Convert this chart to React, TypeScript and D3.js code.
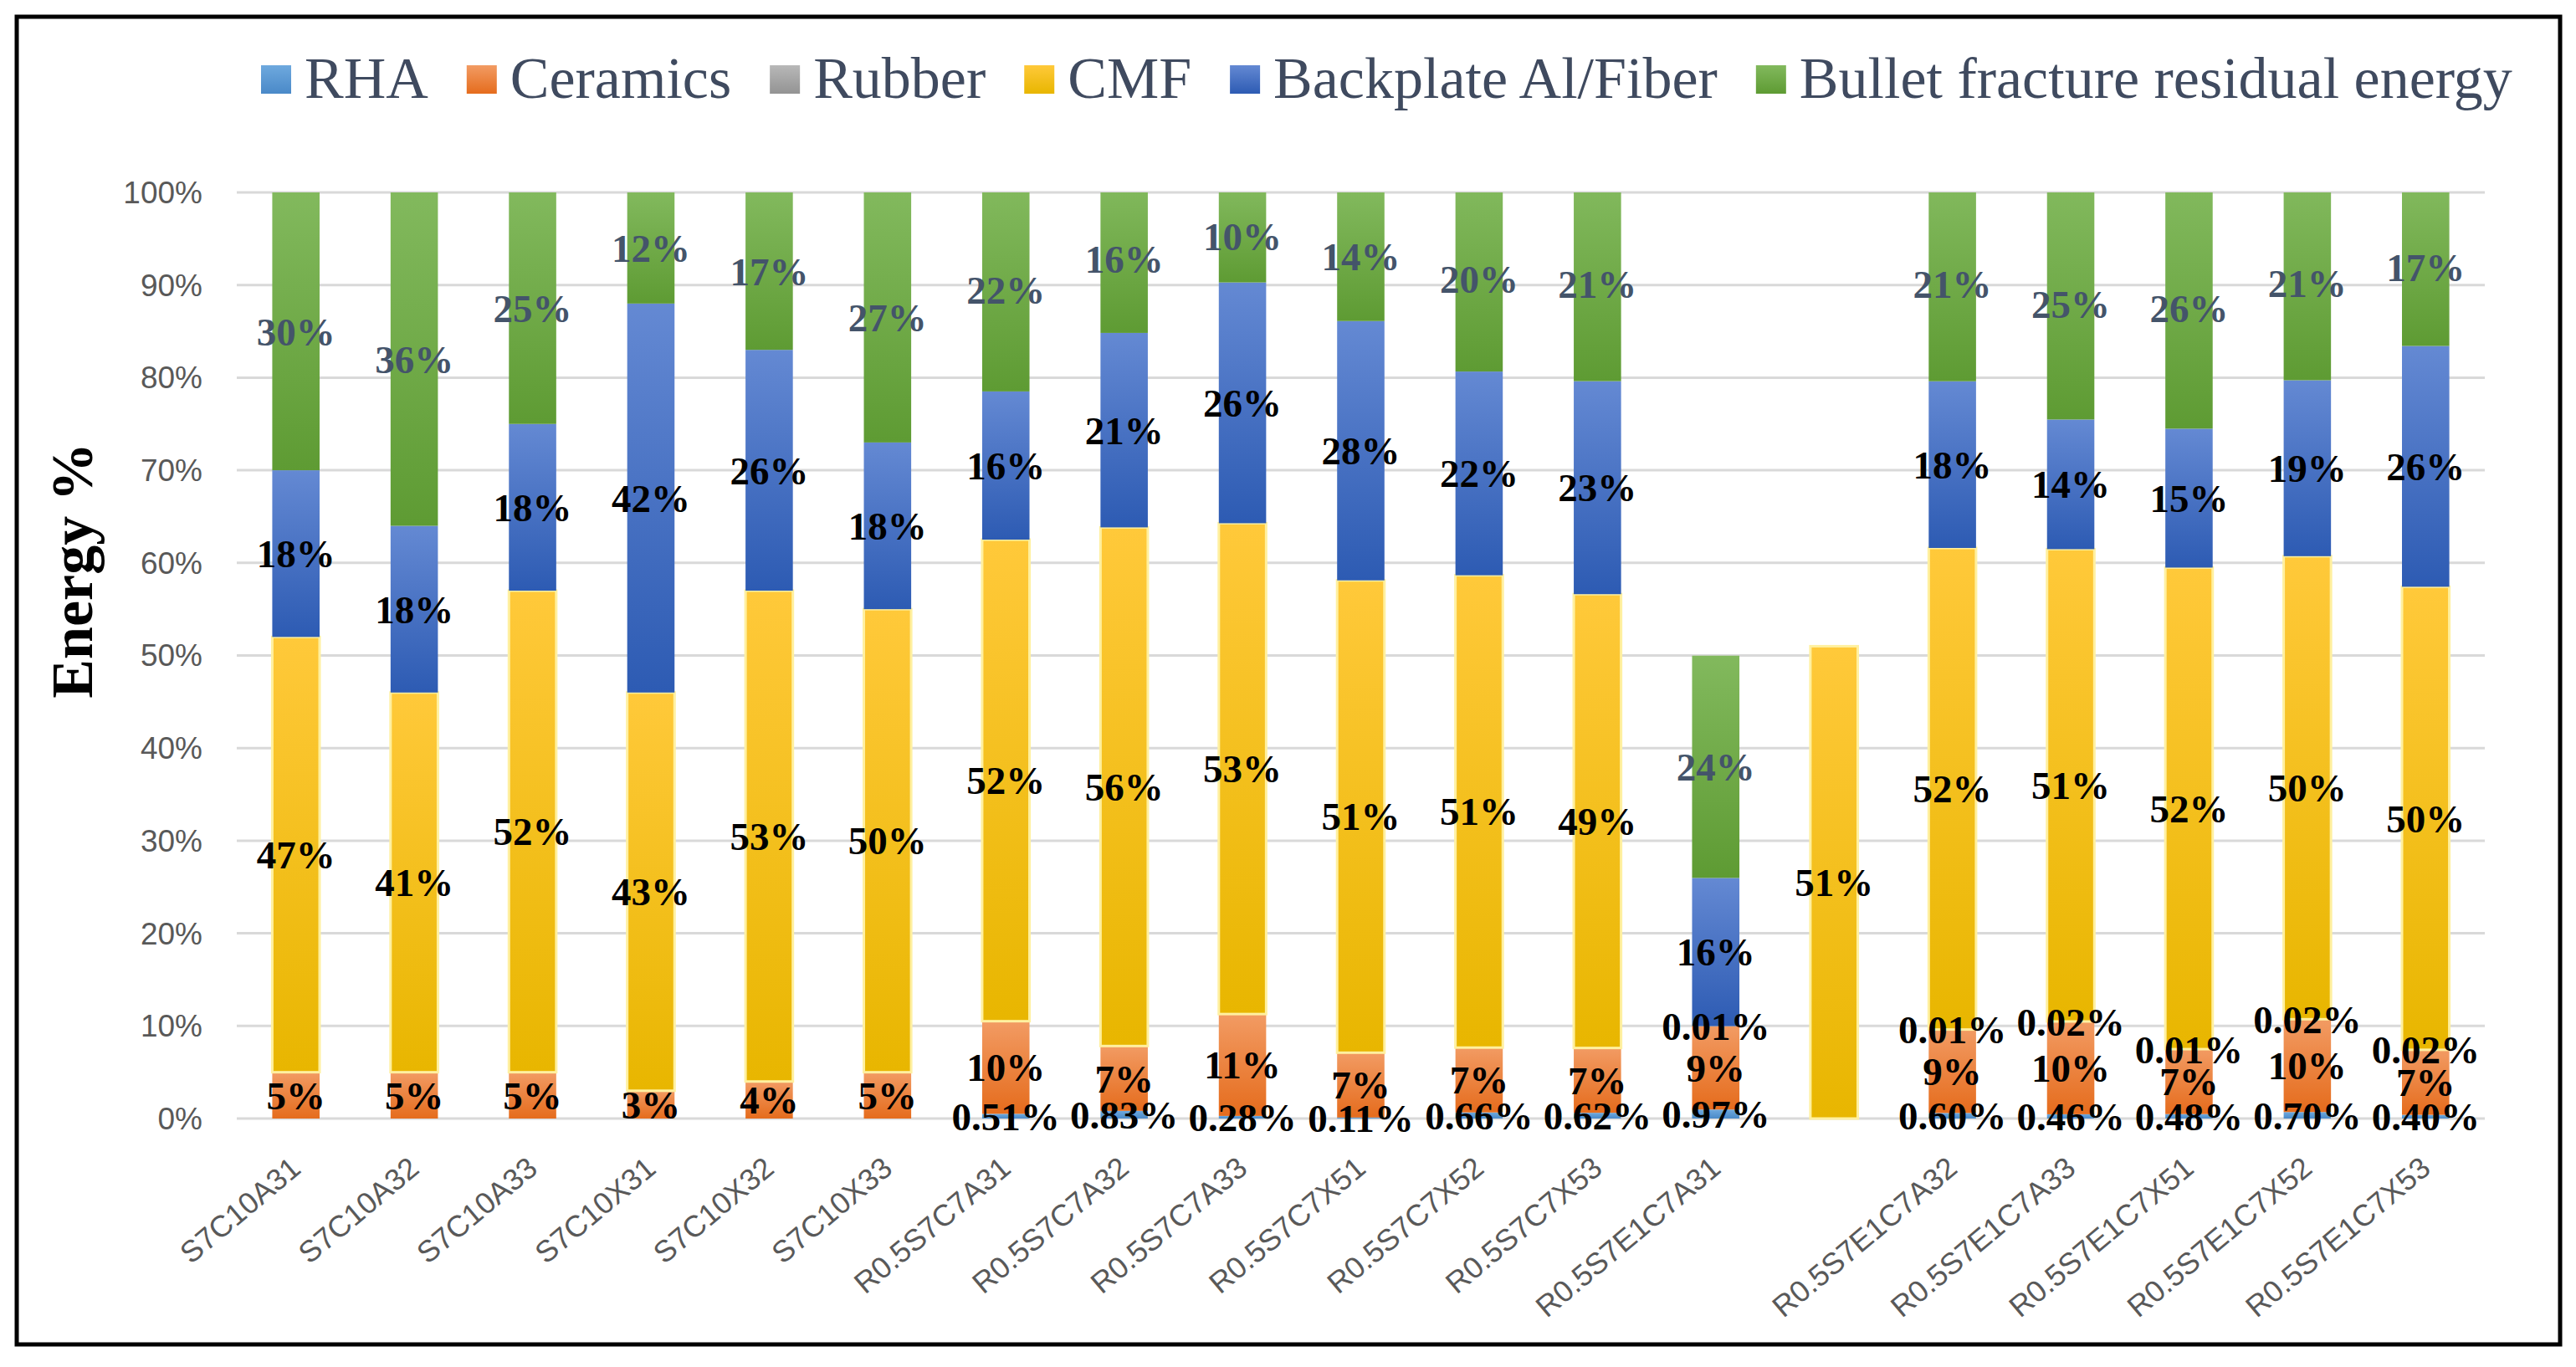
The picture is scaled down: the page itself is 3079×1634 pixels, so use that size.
import { useEffect, useRef } from 'react';
import * as d3 from 'd3';

// categories (one unlabeled column carries the lone 51% CMF bar)
const categories = [
  'S7C10A31', 'S7C10A32', 'S7C10A33', 'S7C10X31', 'S7C10X32', 'S7C10X33',
  'R0.5S7C7A31', 'R0.5S7C7A32', 'R0.5S7C7A33', 'R0.5S7C7X51', 'R0.5S7C7X52', 'R0.5S7C7X53',
  'R0.5S7E1C7A31', '', 'R0.5S7E1C7A32', 'R0.5S7E1C7A33', 'R0.5S7E1C7X51', 'R0.5S7E1C7X52', 'R0.5S7E1C7X53',
];

const seriesNames = ['RHA', 'Ceramics', 'Rubber', 'CMF', 'Backplate Al/Fiber', 'Bullet fracture residual energy'];

const rha = [0, 0, 0, 0, 0, 0, 0.51, 0.83, 0.28, 0.11, 0.66, 0.62, 0.97, 0, 0.6, 0.46, 0.48, 0.7, 0.4];
const ceramics = [5, 5, 5, 3, 4, 5, 10, 7, 11, 7, 7, 7, 9, 0, 9, 10, 7, 10, 7];
const rubber = [0, 0, 0, 0, 0, 0, 0, 0, 0, 0, 0, 0, 0.01, 0, 0.01, 0.02, 0.01, 0.02, 0.02];
const cmf = [47, 41, 52, 43, 53, 50, 52, 56, 53, 51, 51, 49, 0, 51, 52, 51, 52, 50, 50];
const backplate = [18, 18, 18, 42, 26, 18, 16, 21, 26, 28, 22, 23, 16, 0, 18, 14, 15, 19, 26];
const bullet = [30, 36, 25, 12, 17, 27, 22, 16, 10, 14, 20, 21, 24, 0, 21, 25, 26, 21, 17];

const yTicks = [0, 10, 20, 30, 40, 50, 60, 70, 80, 90, 100];

const topColors = ['#6ea9de', '#f29b63', '#b8b8b8', '#ffc93a', '#6489d3', '#82b95d'];
const bottomColors = ['#4a89c8', '#e56c1d', '#939393', '#e8b600', '#2d5bb3', '#5e9b33'];

const W = 3079;
const H = 1634;

export default function App() {
  const svgRef = useRef<SVGSVGElement>(null);

  useEffect(() => {
    if (!svgRef.current) return;
    const svg = d3.select(svgRef.current);
    svg.selectAll('*').remove();

    const plot = { left: 283, right: 2970, top: 230, bottom: 1337 };
    const serif = '"Liberation Serif", "Times New Roman", serif';
    const sans = '"Liberation Sans", Arial, sans-serif';

    const defs = svg.append('defs');
    seriesNames.forEach((_, i) => {
      const g = defs
        .append('linearGradient')
        .attr('id', `grad${i}`)
        .attr('x1', 0)
        .attr('y1', 0)
        .attr('x2', 0)
        .attr('y2', 1);
      g.append('stop').attr('offset', '0%').attr('stop-color', topColors[i]);
      g.append('stop').attr('offset', '100%').attr('stop-color', bottomColors[i]);
    });
    defs
      .append('clipPath')
      .attr('id', 'plotClip')
      .append('rect')
      .attr('x', 0)
      .attr('y', plot.top)
      .attr('width', W)
      .attr('height', plot.bottom - plot.top + 2);

    svg.append('rect').attr('width', W).attr('height', H).attr('fill', '#fff');
    svg
      .append('rect')
      .attr('x', 20)
      .attr('y', 20)
      .attr('width', 3040)
      .attr('height', 1587)
      .attr('fill', 'none')
      .attr('stroke', '#000')
      .attr('stroke-width', 5);

    // scales
    const x = d3.scaleBand<string>().domain(categories).range([plot.left, plot.right]).paddingInner(0.6).paddingOuter(0.3);
    const y = d3.scaleLinear().domain([0, 100]).range([plot.bottom, plot.top]);

    // gridlines + y ticks
    svg
      .append('g')
      .selectAll('line')
      .data(yTicks)
      .enter()
      .append('line')
      .attr('x1', plot.left)
      .attr('x2', plot.right)
      .attr('y1', (d) => y(d))
      .attr('y2', (d) => y(d))
      .attr('stroke', '#d9d9d9')
      .attr('stroke-width', 3);

    svg
      .append('g')
      .selectAll('text')
      .data(yTicks)
      .enter()
      .append('text')
      .attr('x', 242)
      .attr('y', (d) => y(d))
      .attr('dy', '0.35em')
      .attr('text-anchor', 'end')
      .style('font-family', sans)
      .style('font-size', '37px')
      .style('fill', '#595959')
      .text((d) => `${d}%`);

    // stacked data
    const keys = seriesNames;
    const table = categories.map((c, i) => ({
      cat: c,
      [keys[0]]: rha[i],
      [keys[1]]: ceramics[i],
      [keys[2]]: rubber[i],
      [keys[3]]: cmf[i],
      [keys[4]]: backplate[i],
      [keys[5]]: bullet[i],
    }));
    const stacked = d3.stack<any>().keys(keys)(table);

    const barsG = svg.append('g').attr('clip-path', 'url(#plotClip)');
    stacked.forEach((layer, k) => {
      barsG
        .append('g')
        .selectAll('rect')
        .data(layer.filter((d) => d[1] - d[0] > 0))
        .enter()
        .append('rect')
        .attr('x', (d) => x(d.data.cat) as number)
        .attr('y', (d) => y(d[1]))
        .attr('width', x.bandwidth())
        .attr('height', (d) => Math.max(0.5, y(d[0]) - y(d[1])))
        .attr('fill', `url(#grad${k})`)
        .attr('stroke', k === 3 ? '#fff0a0' : 'none')
        .attr('stroke-width', k === 3 ? 3 : 0);
    });

    // data labels
    const fmtSmall = (v: number) => `${d3.format('.2f')(v)}%`;
    const fmtInt = (v: number) => `${d3.format('.0f')(v)}%`;
    stacked.forEach((layer, k) => {
      svg
        .append('g')
        .selectAll('text')
        .data(layer.filter((d) => d[1] - d[0] > 0))
        .enter()
        .append('text')
        .attr('x', (d) => (x(d.data.cat) as number) + x.bandwidth() / 2)
        .attr('y', (d) => y((d[0] + d[1]) / 2))
        .attr('dy', '0.35em')
        .attr('text-anchor', 'middle')
        .style('font-family', serif)
        .style('font-weight', 'bold')
        .style('font-size', '47px')
        .style('fill', k === 5 ? '#44546a' : '#000')
        .text((d) => (k === 0 || k === 2 ? fmtSmall(d[1] - d[0]) : fmtInt(d[1] - d[0])));
    });

    // x labels
    svg
      .append('g')
      .selectAll('text')
      .data(categories)
      .enter()
      .append('text')
      .attr('transform', (d) => `translate(${(x(d) as number) + x.bandwidth() / 2 + 8},${plot.bottom + 63}) rotate(-40)`)
      .attr('text-anchor', 'end')
      .style('font-family', sans)
      .style('font-size', '36px')
      .style('fill', '#595959')
      .text((d) => d);

    // y title
    svg
      .append('text')
      .attr('transform', 'translate(110,682) rotate(-90)')
      .attr('text-anchor', 'middle')
      .style('font-family', serif)
      .style('font-weight', 'bold')
      .style('font-size', '70px')
      .style('fill', '#000')
      .text('Energy %');

    // legend
    const legend = svg.append('g');
    let lx = 312;
    const ly = 95;
    seriesNames.forEach((name, i) => {
      legend
        .append('rect')
        .attr('x', lx)
        .attr('y', ly - 17)
        .attr('width', 36)
        .attr('height', 34)
        .attr('fill', `url(#grad${i})`);
      const t = legend
        .append('text')
        .attr('x', lx + 52)
        .attr('y', ly + 22)
        .style('font-family', serif)
        .style('font-size', '70px')
        .style('fill', '#3f4a5f')
        .text(name);
      const w = (t.node() as SVGTextElement).getComputedTextLength();
      lx += 52 + w + 46;
    });

    return () => {
      svg.selectAll('*').remove();
    };
  }, []);

  return (
    <div style={{ position: 'absolute', left: 0, top: 0 }}>
      <svg ref={svgRef} width={W} height={H} style={{ display: 'block' }} />
    </div>
  );
}
